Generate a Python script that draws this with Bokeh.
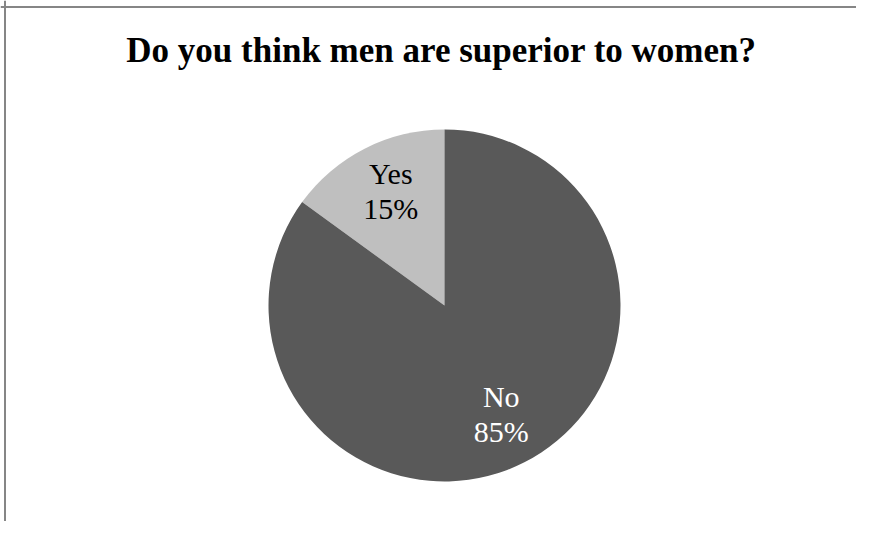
import math
from bokeh.plotting import figure
from bokeh.models import Range1d, Label, Span, ColumnDataSource
from bokeh.embed import file_html
from bokeh.resources import INLINE

# Data
categories = ["Yes", "No"]
percents = [15, 85]
colors = ["#bfbfbf", "#595959"]
label_colors = ["#000000", "#ffffff"]
title_text = "Do you think men are superior to women?"

W, H = 856, 521
R = 176
cx, cy = 444, 305  # pie centre in canvas pixels
TXT_SHIFT = 10     # compensation for svg text baseline placement

p = figure(width=W, height=H, output_backend="svg", toolbar_location=None,
           x_range=Range1d(-cx, W - cx), y_range=Range1d(-(H - cy), cy),
           min_border=0, min_border_left=0, min_border_right=0,
           min_border_top=0, min_border_bottom=0)
p.axis.visible = False
p.grid.visible = False
p.outline_line_color = None
p.background_fill_color = "white"
p.border_fill_color = "white"

# Wedges: start at 12 o'clock, Yes goes counter-clockwise
starts, ends, lx, ly = [], [], [], []
a = math.pi / 2
for pct in percents:
    span = pct / 100 * 2 * math.pi
    starts.append(a)
    ends.append(a + span)
    mid = a + span / 2
    lx.append(0.71 * R * math.cos(mid))
    ly.append(0.71 * R * math.sin(mid))
    a += span

src = ColumnDataSource(dict(start=starts, end=ends, color=colors))
p.wedge(x=0, y=0, radius=R, start_angle="start", end_angle="end",
        fill_color="color", line_color=None, source=src)

# Data labels (two lines each)
for x, y, cat, pct, tc in zip(lx, ly, categories, percents, label_colors):
    for txt, off in ((cat, 7.5), (f"{pct}%", -27.5)):
        p.add_layout(Label(x=x, y=y, text=txt, y_offset=off + TXT_SHIFT + 3,
                           x_offset=3 if x < 0 else 0,
                           text_font="Times New Roman", text_font_size="30px",
                           text_align="center", text_baseline="alphabetic",
                           text_color=tc))

# Title
p.add_layout(Label(x=441 - cx, y=cy - 60 + TXT_SHIFT, text=title_text,
                   text_font="Times New Roman",
                   text_font_style="bold", text_font_size="35px",
                   text_align="center", text_baseline="alphabetic",
                   text_color="black"))

# Chart area border (top and left visible)
p.add_layout(Span(location=-cx + 4.5, dimension="height", line_color="#868686", line_width=2))
p.add_layout(Span(location=cy - 6.5, dimension="width", line_color="#868686", line_width=2))

open("out.html", "w").write(file_html(p, INLINE))
